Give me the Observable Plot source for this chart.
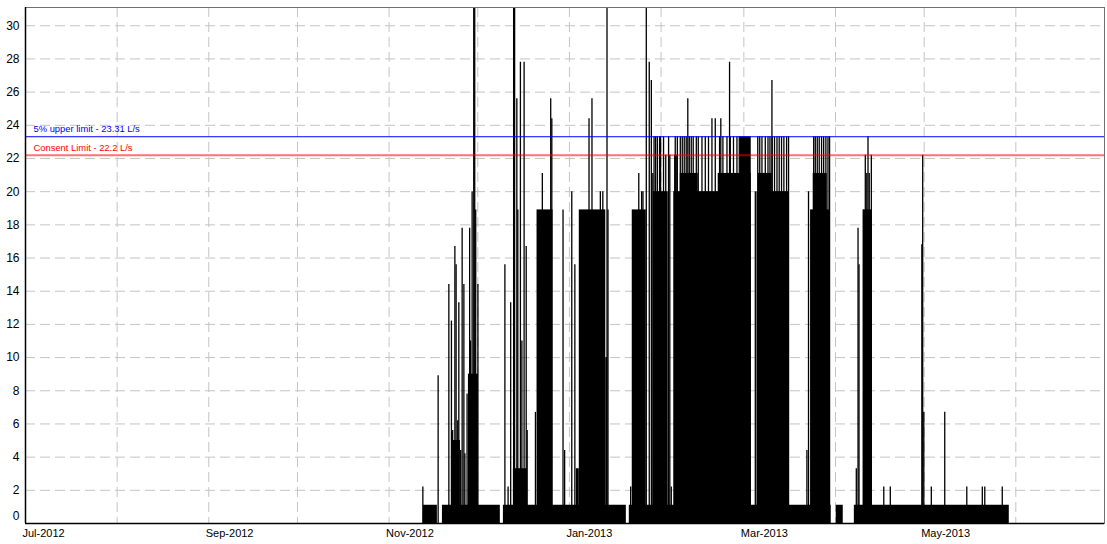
<!DOCTYPE html>
<html><head><meta charset="utf-8">
<script src="https://cdn.jsdelivr.net/npm/d3@7"></script>
<script src="https://cdn.jsdelivr.net/npm/@observablehq/plot@0.6"></script>
<style>body{margin:0;background:#fff;}</style>
</head><body><div id="chart"></div>
<script>
// ---- data (flow, L/s) ----
const spikeTimes = [
"2012-11-12 10","2012-11-17 14","2012-11-21 05","2012-11-22 02","2012-11-22 12","2012-11-23 06","2012-11-23 16","2012-11-24 05","2012-11-24 14","2012-11-25 05","2012-11-25 17","2012-11-26 07","2012-11-26 15","2012-11-27 09","2012-11-28 06","2012-11-28 13","2012-11-29 02","2012-11-29 15","2012-11-29 23","2012-11-30 07","2012-12-01 01",
"2012-12-10 04","2012-12-11 06","2012-12-12 03","2012-12-13 03","2012-12-13 11","2012-12-14 05","2012-12-14 13","2012-12-15 10","2012-12-15 22","2012-12-16 16","2012-12-17 09","2012-12-17 17","2012-12-20 12","2012-12-22 20","2012-12-25 16","2012-12-26 01","2012-12-29 20","2012-12-30 09",
"2013-01-01 19","2013-01-02 20","2013-01-07 15","2013-01-08 15","2013-01-11 11","2013-01-12 07","2013-01-13 17","2013-01-14 01","2013-01-21 17","2013-01-24 11","2013-01-25 10","2013-01-25 21","2013-01-27 00","2013-01-28 00","2013-01-28 17","2013-01-29 05","2013-01-29 15","2013-01-30 04","2013-01-30 18","2013-01-31 12","2013-01-31 20",
"2013-02-01 20","2013-02-02 14","2013-02-03 13","2013-02-03 23","2013-02-04 11","2013-02-05 15","2013-02-05 19","2013-02-06 03","2013-02-06 12","2013-02-07 12","2013-02-08 04","2013-02-08 20","2013-02-09 12","2013-02-10 01","2013-02-10 13","2013-02-11 05","2013-02-11 21","2013-02-12 22","2013-02-13 14","2013-02-14 20","2013-02-15 23","2013-02-17 01","2013-02-18 05","2013-02-19 08","2013-02-20 19","2013-02-21 05","2013-02-21 22","2013-02-23 07","2013-02-24 04","2013-02-24 10","2013-02-25 12","2013-02-26 16","2013-02-27 11",
"2013-03-04 21","2013-03-05 17","2013-03-06 09","2013-03-07 03","2013-03-08 06","2013-03-09 04","2013-03-09 20","2013-03-10 12","2013-03-10 14","2013-03-11 09","2013-03-12 05","2013-03-12 23","2013-03-13 18","2013-03-14 13","2013-03-15 11","2013-03-16 03","2013-03-22 08","2013-03-22 21","2013-03-23 15","2013-03-24 15","2013-03-25 04","2013-03-25 20","2013-03-26 12","2013-03-27 07","2013-03-28 00","2013-03-28 18","2013-03-29 11","2013-03-30 00",
"2013-04-08 01","2013-04-08 15","2013-04-08 23","2013-04-10 10","2013-04-11 02","2013-04-11 14","2013-04-12 00","2013-04-12 10","2013-04-13 03","2013-04-17 08","2013-04-19 13","2013-04-30 05","2013-04-30 12","2013-04-30 21",
"2013-05-03 10","2013-05-07 23","2013-05-15 10","2013-05-20 16","2013-05-21 12","2013-05-27 10"
];
const spikeValues = [
2.2,8.9,14.4,12.2,5.6,16.7,15.6,6.2,13.3,4.4,17.8,14.4,4.2,7.8,17.8,11,20,35,35,18.9,14.4,
15.6,2.2,13.3,35,35,25.6,18.9,27.8,11,27.8,16.7,5.6,6.7,21.1,25.6,24.4,18.9,4.4,
20,15.6,24.4,25.6,20,20,35,18.9,2.2,21.1,20,20,35,27.8,26.7,21.1,23.31,23.31,23.31,23.31,23.31,
23.31,22.2,23.31,22.2,2.2,22.2,23.31,22.2,23.31,23.31,23.31,23.31,23.31,25.6,23.31,23.31,23.31,23.31,23.31,23.31,23.31,23.31,24.4,24.4,23.31,24.4,23.31,23.31,27.8,23.31,23.31,23.31,23.31,
20,23.31,23.31,23.31,23.31,23.31,23.31,26.7,23.31,23.31,23.31,23.31,23.31,23.31,23.31,23.31,4.4,20,18.9,23.31,23.31,23.31,23.31,23.31,23.31,23.31,23.31,23.31,
3.3,17.8,15.6,18.9,22.2,21.1,23.31,21.1,22.2,2.2,2.2,16.8,22.2,6.7,
2.2,6.7,2.2,2.2,2.2,2.2
];
// periods where the trace is dense enough to read as solid black
const blockStarts = [
"2012-11-12 14","2012-11-19 01","2012-12-09 16","2013-01-21 06","2013-04-01 06","2013-04-07 09",
"2012-11-22 18","2012-11-27 20","2012-12-13 01","2012-12-21 01","2013-01-03 08","2013-01-04 08","2013-01-13 07","2013-01-22 06","2013-01-29 09","2013-02-05 07","2013-02-07 12","2013-02-20 08","2013-02-27 19","2013-03-05 10","2013-03-05 21","2013-03-23 19","2013-03-24 11","2013-04-10 10"
];
const blockEnds = [
"2012-11-17 08","2012-12-08 15","2013-01-20 06","2013-03-30 13","2013-04-03 15","2013-05-29 19",
"2012-11-25 03","2012-12-01 05","2012-12-17 19","2012-12-26 11","2013-01-04 08","2013-01-13 07","2013-01-14 00","2013-01-27 00","2013-02-03 10","2013-03-03 12","2013-02-13 14","2013-03-03 12","2013-03-03 12","2013-03-16 04","2013-03-10 14","2013-03-30 05","2013-03-29 05","2013-04-13 11"
];
const blockValues = [
1.1,1.1,1.1,1.1,1.1,1.1,
5,9,3.3,18.9,3.3,18.9,10,18.9,20,20,21.1,21.1,23.31,20,21.1,18.9,21.1,18.9
];
const limitValues = [23.31, 22.2];
const limitLabels = ["5% upper limit - 23.31 L/s", "Consent Limit - 22.2 L/s"];
const yTicks = [2,4,6,8,10,12,14,16,18,20,22,24,26,28,30];
const xTickDates = ["2012-07-01 00","2012-09-01 00","2012-11-01 00","2013-01-01 00","2013-03-01 00","2013-05-01 00"];
const xTickLabels = ["Jul-2012","Sep-2012","Nov-2012","Jan-2013","Mar-2013","May-2013"];
const gridMonths = ["2012-08-01 00","2012-09-01 00","2012-10-01 00","2012-11-01 00","2012-12-01 00","2013-01-01 00","2013-02-01 00","2013-03-01 00","2013-04-01 00","2013-05-01 00","2013-06-01 00"];

// ---- build tables ----
const parse = d3.utcParse("%Y-%m-%d %H");
const spikes = spikeTimes.map((t, i) => ({t: parse(t), v: spikeValues[i]}));
const blocks = blockStarts.map((s, i) => ({s: parse(s), e: parse(blockEnds[i]), v: blockValues[i]}));
const xStart = new Date(Date.UTC(2012, 6, 1));
const xEnd = new Date(Date.UTC(2013, 6, 1));
const xTicks = xTickDates.map((d, i) => ({d: parse(d), label: xTickLabels[i]}));
const grid = gridMonths.map(parse);

const chart = Plot.plot({
  width: 1107, height: 544,
  marginLeft: 25, marginRight: 3, marginTop: 7, marginBottom: 21,
  style: {fontFamily: "'Liberation Sans', Arial, sans-serif", fontSize: "11px", background: "white", overflow: "visible", color: "black"},
  x: {type: "utc", domain: [xStart, xEnd], axis: null},
  y: {domain: [0, 31.1]},
  marks: [
    Plot.gridX(grid, {stroke: "#c4c4c4", strokeOpacity: 1, strokeDasharray: "10,5"}),
    Plot.gridY(yTicks, {stroke: "#c4c4c4", strokeOpacity: 1, strokeDasharray: "10,5"}),
    Plot.rectY(blocks, {x1: "s", x2: "e", y1: 0, y2: "v", fill: "black"}),
    Plot.ruleX(spikes, {x: "t", y1: 0, y2: "v", stroke: "black", strokeWidth: 1.3, clip: true}),
    Plot.ruleY([limitValues[0]], {stroke: "#0000ff", strokeWidth: 1}),
    Plot.ruleY([limitValues[1]], {stroke: "#ff0000", strokeOpacity: 0.55, strokeWidth: 2}),
    Plot.text([{x: xStart, y: limitValues[0], t: limitLabels[0]}], {x: "x", y: "y", text: "t", dx: 8, dy: -8, textAnchor: "start", fontSize: 9.4, fill: "#0000ff"}),
    Plot.text([{x: xStart, y: limitValues[1], t: limitLabels[1]}], {x: "x", y: "y", text: "t", dx: 8, dy: -7.5, textAnchor: "start", fontSize: 9.4, fill: "#ff0000"}),
    Plot.frame({stroke: "#707070"}),
    Plot.ruleX([xStart], {stroke: "black", strokeWidth: 1.5}),
    Plot.ruleY([0], {stroke: "black", strokeWidth: 1.5}),
    Plot.axisY(yTicks, {tickSize: 0, tickPadding: 6, label: null, fontSize: 12}),
    Plot.axisY([0], {tickSize: 0, tickPadding: 6, label: null, dy: -7, fontSize: 12}),
    Plot.text(xTicks, {x: "d", text: "label", frameAnchor: "bottom", lineAnchor: "top", dy: 6, dx: -3, textAnchor: "start", fontSize: 11})
  ]
});
document.getElementById("chart").appendChild(chart);
</script>
</body></html>
